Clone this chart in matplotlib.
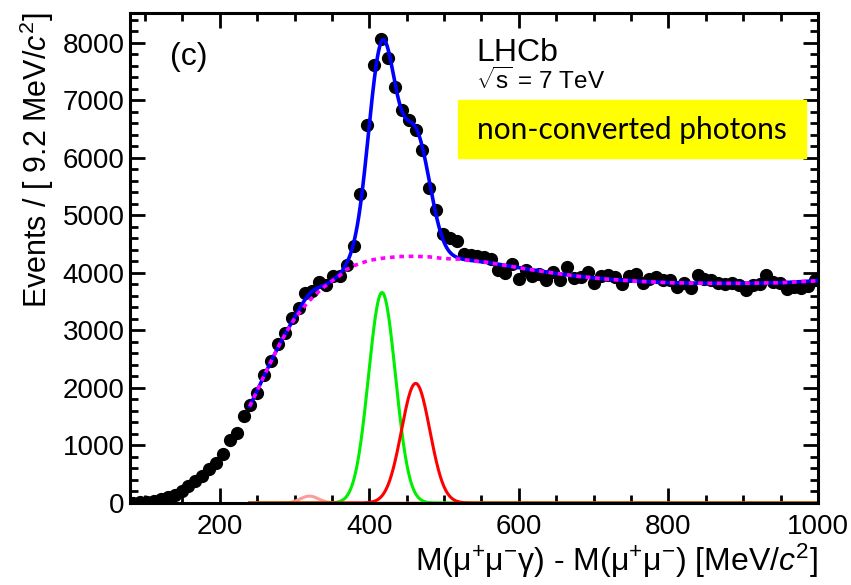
import matplotlib
matplotlib.use("Agg")
import matplotlib.pyplot as plt
import numpy as np
from matplotlib.patches import Rectangle
from matplotlib.ticker import MultipleLocator

plt.rcParams['font.family'] = 'Liberation Sans'
plt.rcParams['mathtext.fontset'] = 'custom'
plt.rcParams['mathtext.rm'] = 'Liberation Sans'
plt.rcParams['mathtext.it'] = 'Liberation Sans:italic'

# histogram: 100 bins of 9.2 MeV from 80 to 1000
bin_low = 80.0
bin_width = 9.2
events = [5, 10, 25, 40, 65, 100, 140, 200, 290, 380,
          470, 590, 700, 850, 1100, 1220, 1520, 1710, 1920, 2230,
          2470, 2760, 2950, 3210, 3390, 3650, 3680, 3850, 3790, 3950,
          3940, 4140, 4470, 5380, 6580, 7620, 8070, 7730, 7230, 6840,
          6660, 6490, 6130, 5480, 5100, 4680, 4600, 4560, 4330, 4310,
          4290, 4270, 4250, 4050, 4000, 4160, 3890, 4060, 3940, 3990,
          3880, 4020, 3880, 4110, 3910, 3930, 4020, 3830, 3950, 3960,
          3930, 3800, 3950, 3990, 3830, 3900, 3930, 3880, 3880, 3750,
          3820, 3740, 3960, 3900, 3880, 3820, 3800, 3820, 3790, 3710,
          3790, 3800, 3970, 3850, 3820, 3720, 3760, 3740, 3770, 3870]

# background shape (magenta dashed)
bkg_x = [240, 250, 260, 270, 280, 290, 300, 310, 320, 330, 340, 350, 360, 370,
         380, 400, 420, 440, 460, 480, 500, 520, 560, 600, 640, 680, 720,
         760, 800, 850, 900, 950, 1000]
bkg_y = [1680, 1950, 2230, 2500, 2760, 2990, 3200, 3370, 3520, 3650, 3760,
         3860, 3950, 4060, 4130, 4220, 4260, 4285, 4290, 4280, 4250, 4240,
         4180, 4090, 4010, 3940, 3890, 3855, 3830, 3820, 3820, 3830, 3865]

# signal peaks: amplitude, mean, sigma
green_peak = [3660, 417, 18]
red_peak = [2080, 462, 19]
pink_peak = [120, 320, 12]
fit_range = [240, 1000]


def gauss(x, a, m, s):
    return a * np.exp(-0.5 * ((x - m) / s) ** 2)


centres = bin_low + bin_width * (np.arange(len(events)) + 0.5)
x_fit = np.linspace(fit_range[0], fit_range[1], 1600)
green = gauss(x_fit, *green_peak)
red = gauss(x_fit, *red_peak)
pink = gauss(x_fit, *pink_peak)
total = np.interp(x_fit, bkg_x, bkg_y) + green + red + pink

fig = plt.figure(figsize=(8.51, 5.85), dpi=100)
ax = fig.add_axes([130/851, 1-503/585, 688/851, 490/585])

ax.plot(centres, events, 'o', color='black', ms=8.5, zorder=2)
ax.plot(x_fit, pink, color='#ff9a9a', lw=2.2, zorder=2.2)
ax.plot(x_fit, green, color='#00ee00', lw=2.2, zorder=2.2)
ax.plot(x_fit, red, color='#ff0000', lw=2.2, zorder=2.2)
ax.plot(x_fit, total, color='#0000ff', lw=2.6, zorder=3)
ax.plot(bkg_x, bkg_y, color='#ff00ff', lw=2.6, ls=(0, (1.3, 1.3)), zorder=4)

ax.set_xlim(80, 1000)
ax.set_ylim(0, 8520)
ax.xaxis.set_major_locator(MultipleLocator(200))
ax.xaxis.set_minor_locator(MultipleLocator(50))
ax.yaxis.set_major_locator(MultipleLocator(1000))
ax.yaxis.set_minor_locator(MultipleLocator(200))
for s in ax.spines.values():
    s.set_linewidth(2.2)
ax.tick_params(which='both', direction='in', top=True, right=True, width=2,
               labelsize=20)
ax.tick_params(which='major', length=11)
ax.tick_params(which='minor', length=5.5)
ax.tick_params(axis='x', pad=8)
ax.tick_params(axis='y', pad=4)

ax.set_xlabel('M(μ$^{+}$μ$^{-}$γ) - M(μ$^{+}$μ$^{-}$) [MeV/$c^{2}$]',
              fontsize=23, loc='right')
ax.xaxis.set_label_coords(1.0, -0.08)
ax.set_ylabel(r'Events / [ 9.2 MeV/$c^{2}$]', fontsize=22, loc='top')
ax.yaxis.set_label_coords(-0.108, 1.0)

fig.text(189/851, 1-57/585, '(c)', fontsize=23, ha='center', va='center')
fig.text(476/851, 1-53/585, 'LHCb', fontsize=23, va='center')
fig.text(476/851, 1-81/585, r'$\sqrt{\mathrm{s}}$ = 7 TeV', fontsize=17.5, va='center')
fig.patches.append(Rectangle((458/851, 1-158/585), 348/851, 58/585,
                             transform=fig.transFigure, color='#ffff00', zorder=5))
fig.text(632/851, 1-130/585, 'non-converted photons', fontsize=21.5, family='Lato',
         ha='center', va='center', zorder=6)

fig.savefig('out.png', dpi=100)
